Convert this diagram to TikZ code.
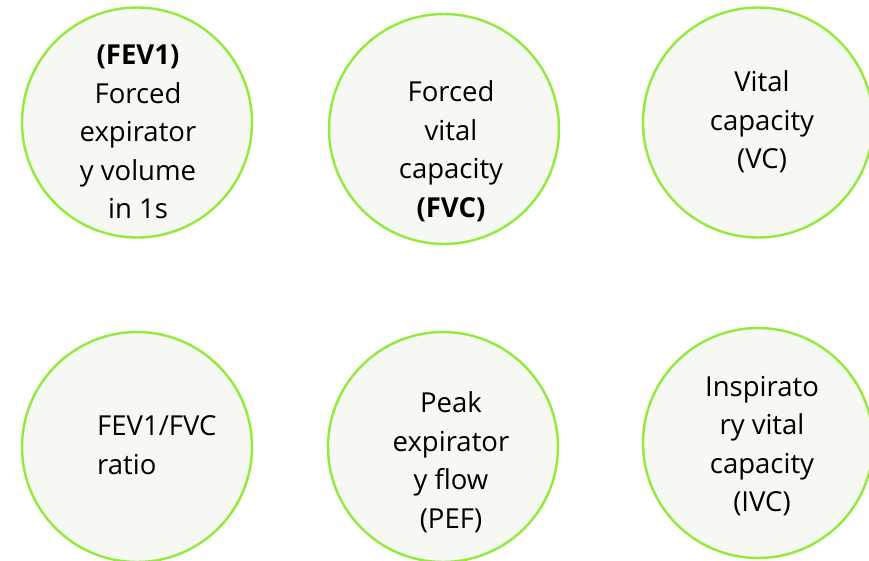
\documentclass[tikz,border=0pt]{standalone}
\usepackage{fontspec}
\setmainfont{Open Sans}
\usepackage{tikz}
\usetikzlibrary{shapes.geometric, positioning}
\definecolor{ringgreen}{RGB}{146,234,58}
\definecolor{ringfill}{RGB}{245,248,243}
\tikzstyle{bubble} = [
    circle, 
    minimum size=230pt, 
    inner sep=0pt, 
    draw=ringgreen, 
    fill=ringfill, 
    line width=2.4pt
]
\tikzstyle{txt} = [
    align=center, 
    inner sep=0pt, 
    font=\fontsize{27.5}{38.5}\selectfont, 
    text=black
]

\begin{document}
\begin{tikzpicture}[x=1pt, y=-1pt]
    \useasboundingbox (0,0) rectangle (869,561);
    
    % Circles
    \node (fev) [bubble] at (137,122.5) {};
    \node (fvc) [bubble] at (444,129) {};
    \node (vc) [bubble] at (758,122.5) {};
    \node (ratio) [bubble] at (137,447) {};
    \node (pef) [bubble] at (443,447) {};
    \node (ivc) [bubble] at (758,443) {};
    
    % Texts
    \node (fevtxt) [txt] at (138,132) {\textbf{(FEV1)}\\Forced\\expirator\\y volume\\in 1s};
    \node (fvctxt) [txt] at (451,151) {Forced\\vital\\capacity\\\textbf{(FVC)}};
    \node (vctxt) [txt] at (762,122) {Vital\\capacity\\(VC)};
    \node (ratiotxt) [txt, align=left, anchor=west] at (97,445) {FEV1/FVC\\ratio};
    \node (peftxt) [txt] at (451,462) {Peak\\expirator\\y flow\\(PEF)};
    \node (ivctxt) [txt] at (762,446) {Inspirato\\ry vital\\capacity\\(IVC)};
    
\end{tikzpicture}
\end{document}
